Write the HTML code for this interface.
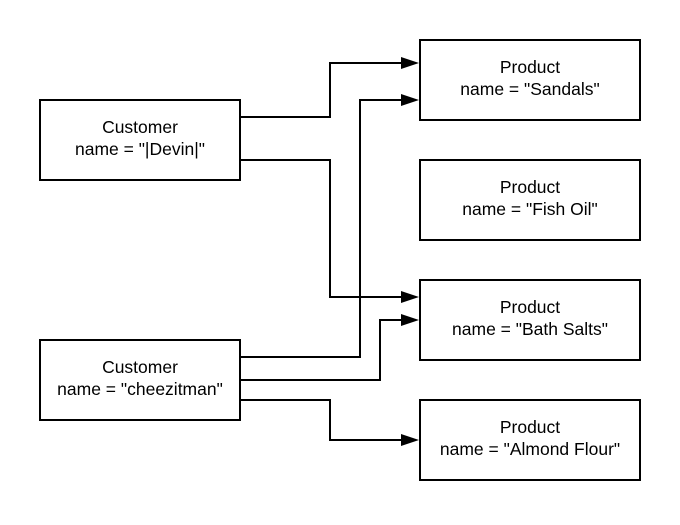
<!DOCTYPE html>
<html><head><style>body{margin:0;background:#fff}</style></head><body>
<svg width="680" height="520" xmlns="http://www.w3.org/2000/svg" font-family="Liberation Sans, sans-serif" font-size="17.5">
<g fill="#fff" stroke="#000" stroke-width="2">
<rect x="40" y="100" width="200" height="80"/>
<rect x="40" y="340" width="200" height="80"/>
<rect x="420" y="40" width="220" height="80"/>
<rect x="420" y="160" width="220" height="80"/>
<rect x="420" y="280" width="220" height="80"/>
<rect x="420" y="400" width="220" height="80"/>
</g>
<g fill="none" stroke="#000" stroke-width="2">
<polyline points="240,117 330,117 330,63 402,63"/>
<polyline points="240,160 330,160 330,297 402,297"/>
<polyline points="240,357 360,357 360,100 402,100"/>
<polyline points="240,380 380,380 380,320 402,320"/>
<polyline points="240,400 330,400 330,440 402,440"/>
</g>
<g fill="#000">
<polygon points="419,63 401,57 401,69"/>
<polygon points="419,100 401,94 401,106"/>
<polygon points="419,297 401,291 401,303"/>
<polygon points="419,320 401,314 401,326"/>
<polygon points="419,440 401,434 401,446"/>
</g>
<g text-anchor="middle" fill="#000">
<text x="140" y="133">Customer</text><text x="140" y="155">name = "|Devin|"</text>
<text x="140" y="373">Customer</text><text x="140" y="395">name = "cheezitman"</text>
<text x="530" y="73">Product</text><text x="530" y="95">name = "Sandals"</text>
<text x="530" y="193">Product</text><text x="530" y="215">name = "Fish Oil"</text>
<text x="530" y="313">Product</text><text x="530" y="335">name = "Bath Salts"</text>
<text x="530" y="433">Product</text><text x="530" y="455">name = "Almond Flour"</text>
</g>
</svg>
</body></html>
